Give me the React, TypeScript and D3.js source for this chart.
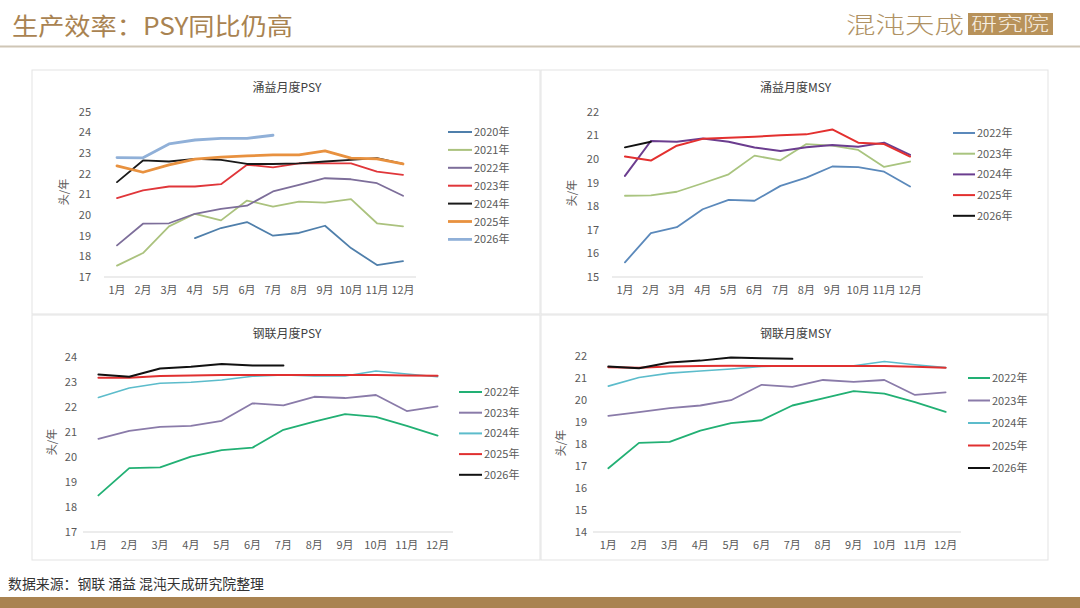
import React from 'react';
import * as d3 from 'd3';

// 月份
const MONTHS = ['1月', '2月', '3月', '4月', '5月', '6月', '7月', '8月', '9月', '10月', '11月', '12月'];

type V = number | null;

// 涌益月度PSY
const YY_PSY_YEARS = ['2020年', '2021年', '2022年', '2023年', '2024年', '2025年', '2026年'];
const YY_PSY_2020: V[] = [null, null, null, 18.88, 19.37, 19.66, 19.0, 19.13, 19.48, 18.4, 17.58, 17.77];
const YY_PSY_2021: V[] = [17.55, 18.16, 19.45, 20.06, 19.74, 20.7, 20.41, 20.65, 20.6, 20.77, 19.6, 19.45];
const YY_PSY_2022: V[] = [18.53, 19.58, 19.6, 20.06, 20.3, 20.45, 21.14, 21.46, 21.78, 21.73, 21.54, 20.93];
const YY_PSY_2023: V[] = [20.82, 21.19, 21.38, 21.38, 21.49, 22.43, 22.31, 22.5, 22.5, 22.5, 22.1, 21.94];
const YY_PSY_2024: V[] = [21.59, 22.64, 22.59, 22.72, 22.67, 22.47, 22.47, 22.5, 22.59, 22.67, 22.75, 22.47];
const YY_PSY_2025: V[] = [22.38, 22.07, 22.43, 22.7, 22.8, 22.86, 22.91, 22.91, 23.1, 22.75, 22.72, 22.47];
const YY_PSY_2026: V[] = [22.78, 22.77, 23.44, 23.63, 23.71, 23.71, 23.86, null, null, null, null, null];

// 涌益月度MSY
const YY_MSY_YEARS = ['2022年', '2023年', '2024年', '2025年', '2026年'];
const YY_MSY_2022: V[] = [15.62, 16.86, 17.11, 17.87, 18.27, 18.23, 18.86, 19.21, 19.68, 19.65, 19.46, 18.83];
const YY_MSY_2023: V[] = [18.44, 18.46, 18.61, 18.97, 19.35, 20.14, 19.94, 20.63, 20.56, 20.38, 19.66, 19.89];
const YY_MSY_2024: V[] = [19.28, 20.76, 20.73, 20.87, 20.73, 20.48, 20.34, 20.49, 20.59, 20.52, 20.69, 20.17];
const YY_MSY_2025: V[] = [20.1, 19.93, 20.56, 20.85, 20.9, 20.94, 21.0, 21.04, 21.25, 20.69, 20.63, 20.1];
const YY_MSY_2026: V[] = [20.49, 20.73, null, null, null, null, null, null, null, null, null, null];

// 钢联月度PSY
const GL_PSY_YEARS = ['2022年', '2023年', '2024年', '2025年', '2026年'];
const GL_PSY_2022: V[] = [18.46, 19.55, 19.58, 20.01, 20.27, 20.37, 21.08, 21.41, 21.71, 21.6, 21.24, 20.85];
const GL_PSY_2023: V[] = [20.72, 21.04, 21.2, 21.24, 21.44, 22.14, 22.06, 22.4, 22.35, 22.47, 21.83, 22.02];
const GL_PSY_2024: V[] = [22.37, 22.75, 22.94, 22.98, 23.07, 23.22, 23.27, 23.23, 23.23, 23.43, 23.31, 23.2];
const GL_PSY_2025: V[] = [23.16, 23.16, 23.23, 23.25, 23.27, 23.27, 23.27, 23.27, 23.27, 23.27, 23.25, 23.24];
const GL_PSY_2026: V[] = [23.29, 23.2, 23.53, 23.6, 23.71, 23.65, 23.65, null, null, null, null, null];

// 钢联月度MSY
const GL_MSY_YEARS = ['2022年', '2023年', '2024年', '2025年', '2026年'];
const GL_MSY_2022: V[] = [16.9, 18.05, 18.1, 18.61, 18.95, 19.08, 19.75, 20.07, 20.4, 20.29, 19.9, 19.46];
const GL_MSY_2023: V[] = [19.28, 19.45, 19.63, 19.75, 19.99, 20.69, 20.6, 20.91, 20.82, 20.91, 20.23, 20.35];
const GL_MSY_2024: V[] = [20.63, 21.02, 21.22, 21.32, 21.41, 21.52, 21.56, 21.56, 21.56, 21.75, 21.6, 21.47];
const GL_MSY_2025: V[] = [21.49, 21.47, 21.52, 21.55, 21.56, 21.55, 21.55, 21.55, 21.55, 21.54, 21.51, 21.47];
const GL_MSY_2026: V[] = [21.52, 21.44, 21.7, 21.79, 21.93, 21.9, 21.87, null, null, null, null, null];

const FONT = '"Noto Sans CJK SC", "Noto Sans", sans-serif';
const GOLD = '#a98351';

interface SeriesDef {
  name: string;
  values: V[];
  color: string;
  width: number;
}

interface PanelProps {
  title: string;
  box: [number, number, number, number];
  titleY: number;
  xRange: [number, number];
  yRange: [number, number];
  domain: [number, number];
  tickX: number;
  yTitle: [number, number];
  monthY: number;
  legend: { x: number; y0: number; dy: number; len: number };
  series: SeriesDef[];
}

const Panel: React.FC<PanelProps> = ({ title, box, titleY, xRange, yRange, domain, tickX, yTitle, monthY, legend, series }) => {
  const x = d3.scaleBand<string>().domain(MONTHS).range(xRange);
  const y = d3.scaleLinear().domain(domain).range(yRange);
  const cx = (m: string) => (x(m) || 0) + x.bandwidth() / 2;
  const line = d3.line<V>()
    .defined(d => d != null)
    .x((_, i) => cx(MONTHS[i]))
    .y(d => y(d as number));
  const ticks = d3.range(domain[0], domain[1] + 1);

  return (
    <g>
      <rect x={box[0]} y={box[1]} width={box[2]} height={box[3]} fill="#fff" stroke="#e3e3e3" strokeWidth={1} />
      <text x={box[0] + box[2] / 2 + 1} y={titleY} textAnchor="middle" fontSize={12} fill="#404040" fontFamily={FONT}>{title}</text>
      {ticks.map(t => (
        <text key={t} x={tickX} y={y(t) + 4} textAnchor="end" fontSize={11} fill="#595959" fontFamily={FONT}>{t}</text>
      ))}
      <line x1={xRange[0]} x2={xRange[1]} y1={yRange[0]} y2={yRange[0]} stroke="#d9d9d9" strokeWidth={1} />
      {MONTHS.map(m => (
        <text key={m} x={cx(m)} y={monthY} textAnchor="middle" fontSize={11} fill="#595959" fontFamily={FONT}>{m}</text>
      ))}
      <text transform={`translate(${yTitle[0]},${yTitle[1]}) rotate(-90)`} textAnchor="middle" fontSize={11} fill="#595959" fontFamily={FONT}>头/年</text>
      {series.map(s => (
        <path key={s.name} d={line(s.values) || ''} fill="none" stroke={s.color} strokeWidth={s.width} strokeLinejoin="round" strokeLinecap="round" />
      ))}
      {series.map((s, i) => {
        const ly = legend.y0 + i * legend.dy;
        return (
          <g key={s.name}>
            <line x1={legend.x} x2={legend.x + legend.len} y1={ly} y2={ly} stroke={s.color} strokeWidth={Math.max(2, s.width)} />
            <text x={legend.x + legend.len + 2} y={ly + 4} fontSize={11} fill="#595959" fontFamily={FONT}>{s.name}</text>
          </g>
        );
      })}
    </g>
  );
};

const mk = (names: string[], vals: V[][], colors: string[], widths: number[]): SeriesDef[] =>
  names.map((n, i) => ({ name: n, values: vals[i], color: colors[i], width: widths[i] }));

export default function App() {
  const yyPsy = mk(YY_PSY_YEARS,
    [YY_PSY_2020, YY_PSY_2021, YY_PSY_2022, YY_PSY_2023, YY_PSY_2024, YY_PSY_2025, YY_PSY_2026],
    ['#4f7fab', '#abc27e', '#7d6e9a', '#e0363a', '#1a1a1a', '#e8913f', '#90b0d8'],
    [1.8, 1.8, 1.8, 1.8, 1.8, 2.8, 2.8]);
  const yyMsy = mk(YY_MSY_YEARS,
    [YY_MSY_2022, YY_MSY_2023, YY_MSY_2024, YY_MSY_2025, YY_MSY_2026],
    ['#5b89bb', '#a9c47f', '#6b3d8f', '#e3302f', '#111111'],
    [1.8, 1.8, 2, 2, 2]);
  const glPsy = mk(GL_PSY_YEARS,
    [GL_PSY_2022, GL_PSY_2023, GL_PSY_2024, GL_PSY_2025, GL_PSY_2026],
    ['#22b074', '#8a7ba9', '#5cbccb', '#e03030', '#111111'],
    [1.8, 1.8, 1.6, 2, 2]);
  const glMsy = mk(GL_MSY_YEARS,
    [GL_MSY_2022, GL_MSY_2023, GL_MSY_2024, GL_MSY_2025, GL_MSY_2026],
    ['#22b074', '#8a7ba9', '#5cbccb', '#e03030', '#111111'],
    [1.8, 1.8, 1.6, 2, 2]);

  return (
    <svg width={1080} height={608} style={{ position: 'absolute', left: 0, top: 0, background: '#fff' }}>
      <rect x={0} y={0} width={1080} height={608} fill="#fff" />
      {/* 标题栏 */}
      <text x={12} y={35} fontSize={24} fill={GOLD} fontFamily={FONT} textLength={281} lengthAdjust="spacingAndGlyphs">生产效率：PSY同比仍高</text>
      <text x={846} y={33} fontSize={23} fill="#b09264" fontFamily={FONT} textLength={118} lengthAdjust="spacingAndGlyphs" fontWeight={300}>混沌天成</text>
      <rect x={968} y={13} width={85} height={22} fill="#b8925a" />
      <text x={1010} y={31} textAnchor="middle" fontSize={19} fill="#f6eee2" fontFamily={FONT} textLength={78} lengthAdjust="spacingAndGlyphs" fontWeight={300}>研究院</text>
      <line x1={0} x2={1080} y1={46.5} y2={46.5} stroke="#cfc6b6" strokeWidth={2} />

      <Panel title="涌益月度PSY" box={[32, 70, 508, 244]} titleY={92} xRange={[104, 416]} yRange={[277, 111.7]}
        domain={[17, 25]} tickX={91} yTitle={[68, 192]} monthY={294} legend={{ x: 448, y0: 132, dy: 17.9, len: 24 }} series={yyPsy} />
      <Panel title="涌益月度MSY" box={[541, 70, 507, 244]} titleY={92} xRange={[612, 923]} yRange={[277, 111.7]}
        domain={[15, 22]} tickX={599} yTitle={[576, 193]} monthY={294} legend={{ x: 953, y0: 133, dy: 20.7, len: 22 }} series={yyMsy} />
      <Panel title="钢联月度PSY" box={[32, 315, 508, 245]} titleY={338} xRange={[83, 453]} yRange={[532, 356.7]}
        domain={[17, 24]} tickX={77} yTitle={[56, 442]} monthY={549} legend={{ x: 459, y0: 392, dy: 20.7, len: 23 }} series={glPsy} />
      <Panel title="钢联月度MSY" box={[541, 315, 507, 245]} titleY={338} xRange={[593, 961]} yRange={[532, 356]}
        domain={[14, 22]} tickX={587} yTitle={[565, 443]} monthY={549} legend={{ x: 968, y0: 378, dy: 22.5, len: 22 }} series={glMsy} />

      {/* 底部 */}
      <text x={8} y={589} fontSize={14} fill="#333" fontFamily={FONT} textLength={256} lengthAdjust="spacingAndGlyphs">数据来源：钢联 涌益 混沌天成研究院整理</text>
      <rect x={0} y={597} width={1080} height={11} fill={GOLD} />
    </svg>
  );
}
